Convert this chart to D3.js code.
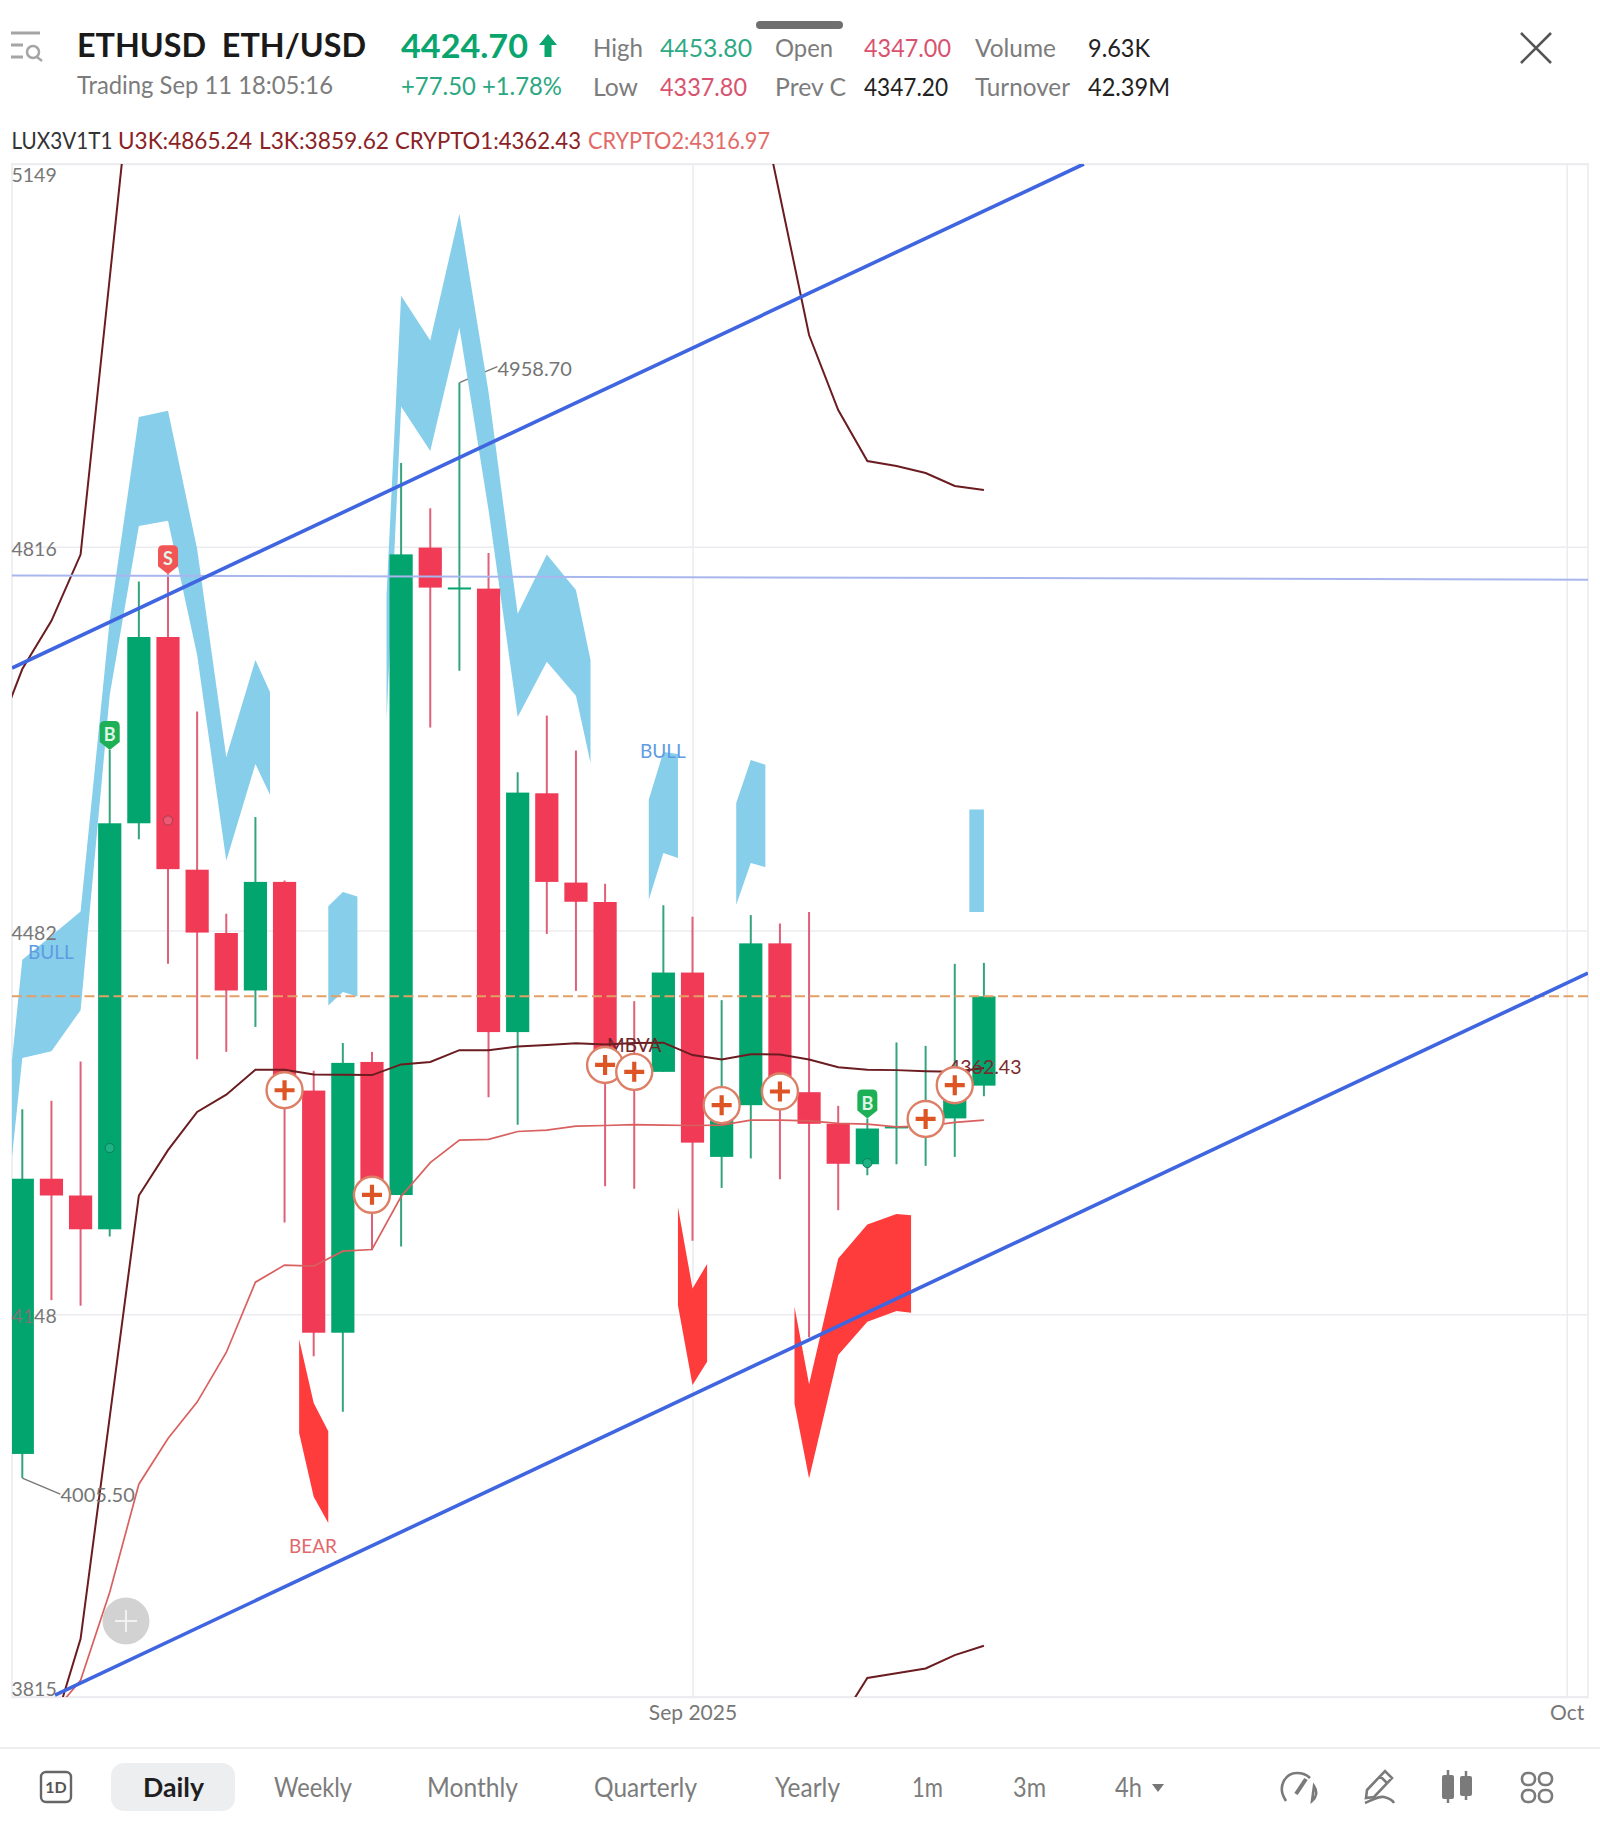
<!DOCTYPE html>
<html>
<head>
<meta charset="utf-8">
<script src="https://cdnjs.cloudflare.com/ajax/libs/d3/7.8.5/d3.min.js"></script>
<style>
  html, body { margin: 0; padding: 0; background: #fff; }
  svg { display: block; }
  text { font-family: Lato, "Noto Sans", sans-serif; }
</style>
</head>
<body>
<svg id="chart" width="1600" height="1827"></svg>
<script>
// daily bars, Aug 9 to Sep 11 2025
var days = ["Aug 9","Aug 10","Aug 11","Aug 12","Aug 13","Aug 14","Aug 15","Aug 16","Aug 17","Aug 18","Aug 19","Aug 20",
  "Aug 21","Aug 22","Aug 23","Aug 24","Aug 25","Aug 26","Aug 27","Aug 28","Aug 29","Aug 30","Aug 31",
  "Sep 1","Sep 2","Sep 3","Sep 4","Sep 5","Sep 6","Sep 7","Sep 8","Sep 9","Sep 10","Sep 11"];
var opens  = [4026.5,4266,4251.4,4222,4575.3,4737.4,4534.9,4479.8,4429.8,4524.3,4342.7,4132,4367.6,4251.8,4815.2,4780,4779.5,4393.6,4601.4,4523.7,4506.8,4360,4359,4445.4,4285,4330,4470.8,4341.3,4313.8,4278.6,4311,4316,4318.5,4347];
var highs  = [4326.5,4333.8,4368,4639,4785.7,4792,4672.6,4496.6,4580.7,4525.5,4360,4384,4376.4,4888.9,4849.4,4958.7,4810.5,4619.8,4669,4638.6,4522.7,4420.5,4504,4494,4421.4,4495.4,4488,4498.2,4329.4,4318.4,4384.6,4381.6,4453,4453.8];
var lows   = [4005.5,4160.3,4155.5,4215.7,4561.3,4453,4370,4376.4,4398.1,4228,4111.6,4063.3,4203.8,4207,4658.6,4708,4337,4313,4479,4429.5,4259.5,4257.3,4359,4212,4258,4283.7,4265.6,4128.1,4238.6,4269,4278.6,4277.2,4285,4337.8];
var closes = [4266,4251.4,4222,4575.3,4737.4,4535.4,4480.2,4429.8,4524.3,4343,4132,4366.8,4251.4,4809.3,4780.4,4780.5,4393.6,4602,4524.3,4507,4365,4359,4445.4,4297.4,4330,4470.8,4341.9,4313.8,4279,4309.7,4311.5,4320,4347.4,4424.7];

var priceTicks = [5149,4816,4482,4148,3815];
var timeTickBars = [23,53];
var timeTickLabels = ["Sep 2025","Oct"];

// indicator lines
var cryptoBars = d3.range(1,34);
var crypto1 = [3782,3865.6,4058.5,4251.4,4290.9,4324.1,4339.1,4360.9,4360.9,4356.8,4356.5,4356.2,4365.5,4367.6,4377.9,4377.9,4381.1,4382.3,4383.8,4382.9,4384,4384.4,4373.6,4369.8,4374.4,4374.1,4369.8,4363.1,4360.9,4360.5,4359.6,4359,4362.43];
var crypto2 = [3799.2,3829.6,3906.2,4000.2,4039.9,4071.6,4114.8,4176,4190.8,4189.9,4203,4204.4,4250.5,4280,4299.6,4300.2,4307.1,4308.3,4311.8,4312.3,4313,4312.6,4312.3,4312.6,4317,4317,4316.4,4314.1,4313.5,4311.2,4311.8,4315,4316.97];
var u3kLeftBars = [-1,0,1,2,3,4];
var u3kLeft = [4643.7,4709.5,4751.5,4809.1,5049.8,5290];
var u3kRightBars = [25,26,27,28,29,30,31,32,33];
var u3kRight = [5242,5121.4,5000.2,4934.9,4890.5,4886.2,4880.1,4868.8,4865.24];
var l3kBars = [28,29,30,31,32,33];
var l3k = [3791.3,3831.6,3835.7,3839.8,3851.4,3859.62];

// bull bands
var bullBars = [
  [-0.5,0,1,2,3,4,5,6,7,8,8.5],
  [10.5,11,11.5],
  [12.5,13,14,15,16,17,18,19,19.5],
  [21.5,22,22.5],
  [24.5,25,25.5],
  [32.5,33]
];
var bullUpper = [
  [4332.7,4456.6,4477.4,4498.5,4752.1,4928.8,4934.3,4813.9,4632.9,4717.3,4689.5],
  [4503.2,4515.6,4511.6],
  [4773.9,5034.4,4995.5,5105.8,4950.6,4757.7,4809.1,4778.3,4717.3],
  [4596.1,4637.3,4635.5],
  [4593,4630.3,4626.3],
  [4587.4,4587.4]
];
var bullLower = [
  [4249.1,4371,4377,4412.7,4686.9,4834,4838.6,4721.7,4542.7,4626.8,4600.2],
  [4416.7,4428.4,4424.6],
  [4665.1,4938,4899.2,5006.4,4847.9,4667.7,4715.8,4686.3,4627.8],
  [4508.8,4549.4,4545],
  [4504.5,4540.7,4537.2],
  [4498.2,4498.2]
];

// bear bands
var bearBars = [
  [9.5,10,10.5],
  [22.5,23,23.5],
  [26.5,27,28,29,30,30.5]
];
var bearUpper = [
  [4126.4,4070.8,4046.3],
  [4241.5,4170.5,4191.7],
  [4154.5,4087.2,4196.6,4226.2,4235.2,4234.3]
];
var bearLower = [
  [4044.8,3989.3,3966.5],
  [4156,4086.4,4106.7],
  [4070.4,4005.2,4112.5,4141.5,4151,4149.3]
];

// drawn lines, bar / price pairs
var upperTrendBars = [-0.353,36.43];
var upperTrend = [4710.4,5149];
var lowerTrendBars = [1.122,53.73];
var lowerTrend = [3816.7,4445];
var flatLineBars = [-0.353,53.73];
var flatLine = [4791,4787.3];
var lastPrice = 4424.7;

// signal markers
var plusBars = [9,12,20,21,24,26,31,32];
var plusPrices = [4343,4252,4365,4359,4330,4341.9,4318,4347.4];
var dotBars = [3,5,29];
var dotPrices = [4292.7,4577.7,4279.6];

var width = 1600,
    plotLeft = 12,
    plotRight = 1588,
    plotTop = 164,
    plotBottom = 1697;

var svg = d3.select("#chart");

var x = d3.scaleLinear().domain([0,53]).range([22.3,1566.7]);
var y = d3.scaleLinear().domain([3815,5149]).range([plotBottom,plotTop]);

var bars = days.map(function(d,i) {
  return {day:d, i:i, o:opens[i], h:highs[i], l:lows[i], c:closes[i], up:closes[i]>=opens[i]};
});

var green = "#03a56f", red = "#f03a56", greenWick = "#34a47d", redWick = "#df6079";
var sky = "#87ceeb", bearRed = "#ff3c3c", darkLine = "#6b1c20", lightLine = "#d9605f";

svg.append("defs").append("clipPath").attr("id","plot")
  .append("rect")
    .attr("x",plotLeft).attr("y",plotTop)
    .attr("width",plotRight-plotLeft).attr("height",plotBottom-plotTop);

function label(parent,str,px,py,size,color,opts) {
  opts = opts || {};
  var t = parent.append("text")
    .attr("x",px).attr("y",py)
    .attr("font-size",size)
    .attr("fill",color)
    .attr("font-weight",opts.weight || 400)
    .attr("text-anchor",opts.anchor || "start")
    .text(str);
  if (opts.w) t.attr("textLength",opts.w).attr("lengthAdjust","spacingAndGlyphs");
  return t;
}

// frame and grid
var grid = svg.append("g");
grid.append("rect")
  .attr("x",plotLeft).attr("y",plotTop)
  .attr("width",plotRight-plotLeft).attr("height",plotBottom-plotTop)
  .attr("fill","none").attr("stroke","#efeff1").attr("stroke-width",2);

var xAxis = d3.axisBottom(x)
  .tickValues(timeTickBars)
  .tickSize(plotTop-plotBottom)
  .tickPadding(0)
  .tickFormat(function(d,i) { return timeTickLabels[i]; });
var xg = grid.append("g").attr("transform","translate(0,"+plotBottom+")").call(xAxis);
xg.select(".domain").remove();
xg.selectAll("line").attr("stroke","#ebebf0").attr("stroke-width",1.5);
xg.selectAll("text")
  .attr("y",0).attr("dy",22.5)
  .attr("font-size",21).attr("font-family","Lato").attr("fill","#777");

var yAxis = d3.axisRight(y)
  .tickValues(priceTicks)
  .tickSize(plotRight-plotLeft)
  .tickFormat(d3.format("d"));
var yg = grid.append("g").attr("transform","translate("+plotLeft+",0)").call(yAxis);
yg.select(".domain").remove();
yg.selectAll("line").attr("stroke","#ececf0").attr("stroke-width",1.5);
yg.selectAll("text").remove();

// connector lines for the high / low labels sit under the bands
var conn = svg.append("g").attr("fill","none").attr("stroke","#777").attr("stroke-width",1.3);
conn.append("path").attr("d",d3.line()([[x(15),y(4958.7)],[x(15)+38,y(4958.7)-16]]));
conn.append("path").attr("d",d3.line()([[x(0),y(4005.5)],[x(0)+38,y(4005.5)+16]]));

var plot = svg.append("g").attr("clip-path","url(#plot)");

function band(bs,up,lo,color) {
  var pts = bs.map(function(b,i) { return {b:b, u:up[i], l:lo[i]}; });
  plot.append("path")
    .datum(pts)
    .attr("fill",color)
    .attr("d",d3.area()
      .x(function(d) { return x(d.b); })
      .y0(function(d) { return y(d.l); })
      .y1(function(d) { return y(d.u); }));
}
bullBars.forEach(function(b,i) { band(b,bullUpper[i],bullLower[i],sky); });
bearBars.forEach(function(b,i) { band(b,bearUpper[i],bearLower[i],bearRed); });

// candles
plot.selectAll("line.wick").data(bars).enter().append("line")
  .attr("class","wick")
  .attr("x1",function(d) { return x(d.i); })
  .attr("x2",function(d) { return x(d.i); })
  .attr("y1",function(d) { return y(d.h); })
  .attr("y2",function(d) { return y(d.l); })
  .attr("stroke",function(d) { return d.up ? greenWick : redWick; })
  .attr("stroke-width",2);

plot.selectAll("rect.body").data(bars).enter().append("rect")
  .attr("class","body")
  .attr("x",function(d) { return x(d.i)-11.6; })
  .attr("width",23.2)
  .attr("y",function(d) { return y(Math.max(d.o,d.c)); })
  .attr("height",function(d) { return Math.max(2,Math.abs(y(d.o)-y(d.c))); })
  .attr("fill",function(d) { return d.up ? green : red; });

// small dots inside bodies
plot.selectAll("circle.dot").data(dotBars).enter().append("circle")
  .attr("class","dot")
  .attr("cx",function(d) { return x(d); })
  .attr("cy",function(d,i) { return y(dotPrices[i]); })
  .attr("r",4.6)
  .attr("fill",function(d) { return d==5 ? "#ee5a72" : "#1fb284"; })
  .attr("stroke",function(d) { return d==5 ? "#a5404f" : "#0d8058"; })
  .attr("stroke-width",1);

// indicator lines
function lineOf(bs,vals,color,w) {
  plot.append("path")
    .datum(bs.map(function(b,i) { return [b,vals[i]]; }))
    .attr("fill","none")
    .attr("stroke",color)
    .attr("stroke-width",w)
    .attr("d",d3.line()
      .x(function(d) { return x(d[0]); })
      .y(function(d) { return y(d[1]); }));
}
lineOf(cryptoBars,crypto2,lightLine,1.7);
lineOf(cryptoBars,crypto1,darkLine,2);
lineOf(u3kLeftBars,u3kLeft,darkLine,2);
lineOf(u3kRightBars,u3kRight,darkLine,2);
lineOf(l3kBars,l3k,darkLine,2);

// flat line and last price
lineOf(flatLineBars,flatLine,"#a9b6ee",2);
plot.append("line")
  .attr("x1",plotLeft).attr("x2",plotRight)
  .attr("y1",y(lastPrice)).attr("y2",y(lastPrice))
  .attr("stroke","#e2a066").attr("stroke-width",2).attr("stroke-dasharray","10,4.5");

// trend lines
lineOf(upperTrendBars,upperTrend,"#3f66e0",3.6);
lineOf(lowerTrendBars,lowerTrend,"#3f66e0",3.6);

// axis tick labels go above the bands
svg.append("g").selectAll("text").data(priceTicks).enter().append("text")
  .attr("x",plotLeft-0.5)
  .attr("y",function(d) { return Math.min(Math.max(y(d)+9,182),1696); })
  .attr("font-size",19.5).attr("fill","#777")
  .text(function(d) { return d; });

label(svg,"4958.70",497.5,375.5,20,"#757575");
label(svg,"4005.50",60.5,1501.5,20,"#757575");
label(svg,"BULL",28,959,19,"#5d9ce3");
label(svg,"BULL",640,758,19,"#5d9ce3");
label(svg,"BEAR",289,1552.5,19,"#e2686c");
label(svg,"MBVA",607,1051.5,19,"#6e2428");
label(svg,"4362.43",949,1074,19.5,"#7b2a2e");

// plus markers
var plus = svg.selectAll("g.plus").data(plusBars).enter().append("g")
  .attr("class","plus")
  .attr("transform",function(d,i) { return "translate("+x(d)+","+y(plusPrices[i])+")"; });
plus.append("circle").attr("r",18).attr("fill","#fff").attr("stroke","#dc7f66").attr("stroke-width",2.4);
plus.append("path").attr("d","M-10,0H10M0,-10V10").attr("stroke","#dd5524").attr("stroke-width",4.2);

// buy / sell flags, tip on the bar high
function flag(bar,letter,color) {
  var px = x(bar), tip = y(highs[bar]);
  var g = svg.append("g").attr("transform","translate("+px+","+tip+")");
  g.append("path")
    .attr("d","M0,0 L-10,-8 L-10,-24 Q-10,-29 -5,-29 L5,-29 Q10,-29 10,-24 L10,-8 Z")
    .attr("fill",color);
  label(g,letter,0,-9,18,"#dff5e8",{anchor:"middle",weight:700});
}
flag(3,"B","#1eb057");
flag(5,"S","#f25555");
flag(29,"B","#1eb057");

// grey add button
svg.append("circle").attr("cx",126).attr("cy",1621).attr("r",23.5).attr("fill","#d2d2d2");
svg.append("path").attr("d","M115,1621H137M126,1610V1632").attr("stroke","#f2f2f2").attr("stroke-width",2);

// header
var head = svg.append("g");
head.append("rect").attr("x",756).attr("y",21).attr("width",87).attr("height",8).attr("rx",4).attr("fill","#6f6f6f");
head.append("path").attr("d","M11,33H40M11,45H23M11,57H23").attr("stroke","#a5a5a5").attr("stroke-width",3);
head.append("circle").attr("cx",33).attr("cy",52).attr("r",6).attr("fill","none").attr("stroke","#a5a5a5").attr("stroke-width",2.5);
head.append("path").attr("d","M37,57L42,61").attr("stroke","#a5a5a5").attr("stroke-width",2.5);

label(head,"ETHUSD\u00A0\u00A0ETH/USD",77,57,32,"#1a1a1a",{weight:700,w:289});
label(head,"4424.70",401,57.5,33,"#09a56e",{weight:700,w:127});
head.append("path").attr("d","M548,34L557,45H551.5V57H544.5V45H539Z").attr("fill","#09a56e");
label(head,"Trading Sep 11 18:05:16",77,94,25,"#7c7c7c",{w:256});
label(head,"+77.50 +1.78%",401,95,25,"#2ba781",{w:161});

var grey = "#7c7c7c", dark = "#222";
label(head,"High",593,57,25.5,grey,{w:50});
label(head,"4453.80",660,57,25.5,"#2da984",{w:92});
label(head,"Low",593,96,25.5,grey,{w:45});
label(head,"4337.80",660,96,25.5,"#d8536f",{w:87});
label(head,"Open",775,57,25.5,grey,{w:58});
label(head,"4347.00",864,57,25.5,"#d8536f",{w:87});
label(head,"Prev C",775,96,25.5,grey,{w:71});
label(head,"4347.20",864,96,25.5,dark,{w:84});
label(head,"Volume",975,57,25.5,grey,{w:81});
label(head,"9.63K",1088,57,25.5,dark,{w:62});
label(head,"Turnover",975,96,25.5,grey,{w:95});
label(head,"42.39M",1088,96,25.5,dark,{w:82});
head.append("path").attr("d","M1521,33L1551,63M1551,33L1521,63").attr("stroke","#555").attr("stroke-width",2.6);

var c1 = "#8a2226", c2 = "#e26a68";
label(head,"LUX3V1T1",11.5,149,23,"#333",{w:101});
label(head,"U3K:4865.24",118,149,23,c1,{w:134});
label(head,"L3K:3859.62",259,149,23,c1,{w:130});
label(head,"CRYPTO1:4362.43",395,149,23,c1,{w:186});
label(head,"CRYPTO2:4316.97",588,149,23,c2,{w:182});

// bottom toolbar
var bar = svg.append("g");
bar.append("line").attr("x1",0).attr("x2",width).attr("y1",1748).attr("y2",1748).attr("stroke","#eeeeee").attr("stroke-width",2);
bar.append("rect").attr("x",41).attr("y",1772).attr("width",30).attr("height",30).attr("rx",5)
  .attr("fill","none").attr("stroke","#666").attr("stroke-width",2.4);
label(bar,"1D",56,1793,16,"#555",{anchor:"middle",weight:700});
bar.append("rect").attr("x",111).attr("y",1763).attr("width",124).attr("height",48).attr("rx",13).attr("fill","#eceef0");
label(bar,"Daily",143,1797,26,"#1f1f1f",{weight:700,w:61});
label(bar,"Weekly",274,1797,26,grey,{w:78});
label(bar,"Monthly",427,1797,26,grey,{w:91});
label(bar,"Quarterly",594,1797,26,grey,{w:103});
label(bar,"Yearly",775,1797,26,grey,{w:65});
label(bar,"1m",912,1797,26,grey,{w:31});
label(bar,"3m",1013,1797,26,grey,{w:33});
label(bar,"4h",1115,1797,26,grey,{w:27});
bar.append("path").attr("d","M1152,1784H1164L1158,1792Z").attr("fill","#777");

var ic = bar.append("g").attr("fill","none").attr("stroke","#7a7a7a").attr("stroke-width",2.6);
// gauge
ic.append("path").attr("d","M1286,1801C1276,1786 1286,1773 1297,1773C1303,1773 1307,1775 1310,1778M1314,1786C1318,1792 1316,1798 1312,1801Z");
ic.append("path").attr("d","M1296,1794L1306,1779").attr("stroke-width",4);
// pencil
ic.append("path").attr("d","M1367,1790L1385,1771L1392,1778L1374,1797L1366,1798Z M1380,1776L1387,1783");
ic.append("path").attr("d","M1365,1803C1372,1800 1378,1796 1384,1797C1388,1798 1392,1799 1394,1803");
// candle icon
ic.append("path").attr("d","M1448,1770V1803M1466,1771V1800").attr("stroke-width",2.5);
bar.append("rect").attr("x",1442).attr("y",1775).attr("width",12).attr("height",24).attr("rx",2).attr("fill","#7a7a7a");
bar.append("rect").attr("x",1460).attr("y",1776).attr("width",12).attr("height",20).attr("rx",2).attr("fill","#7a7a7a");
// grid icon
[[1522,1773],[1539,1773],[1522,1790],[1539,1790]].forEach(function(p) {
  ic.append("rect").attr("x",p[0]).attr("y",p[1]).attr("width",13).attr("height",12).attr("rx",5.5);
});
</script>
</body>
</html>
